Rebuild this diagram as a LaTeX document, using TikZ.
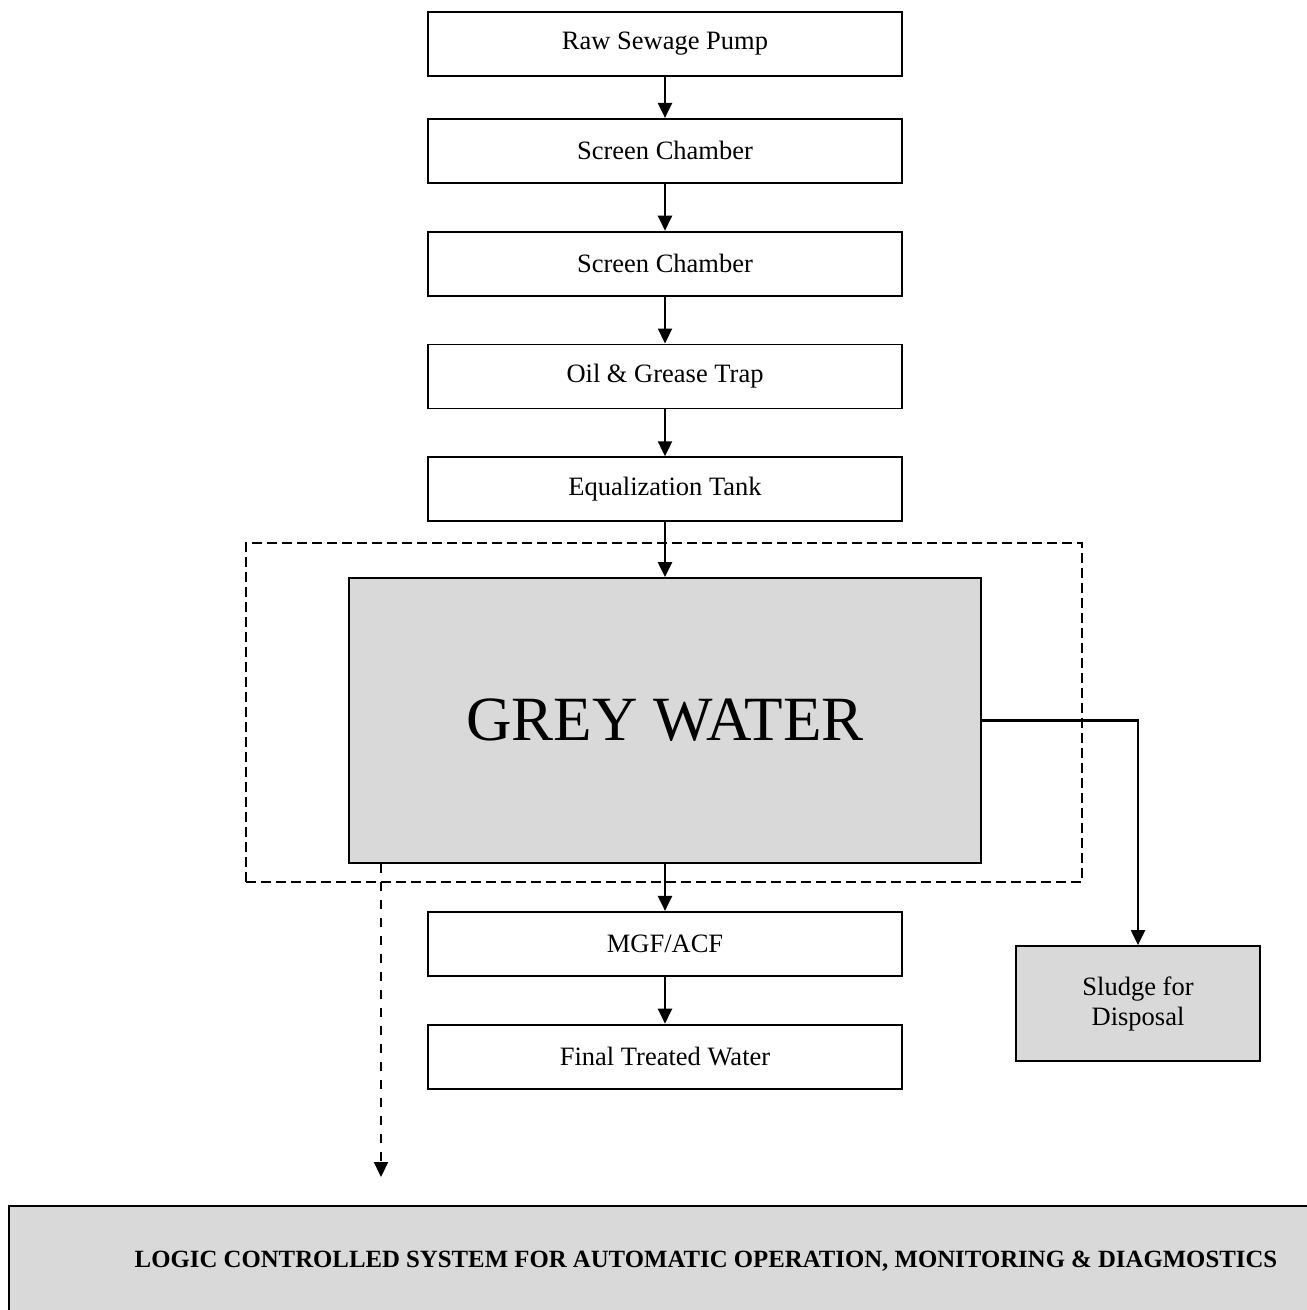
\documentclass[tikz,border=0pt]{standalone}
\usepackage{fontspec}
\setmainfont{Liberation Serif}
\usetikzlibrary{arrows.meta,positioning}
\definecolor{TankGrey}{HTML}{D9D9D9}

\begin{document}
\begin{tikzpicture}[x=1pt,y=1pt,
			node distance=47pt,
			stage/.style={draw,line width=1.8pt,fill=white,align=center,minimum width=474pt,minimum height=64pt,font=\fontsize{26.5}{30}\selectfont},
			tank/.style={draw,line width=1.8pt,fill=TankGrey,align=center},
			zone/.style={draw,line width=1.8pt,dash pattern=on 10pt off 5pt},
			arr/.style={-{Triangle[length=15pt,width=14pt]},line width=2.2pt},
			ctrl/.style={-{Triangle[length=15pt,width=14pt]},line width=2.2pt,dash pattern=on 9pt off 9pt}
		]
		\useasboundingbox (0,0) rectangle (1307,-1310);
		\node[zone,minimum width=836pt,minimum height=339pt] (plant) at (664,-712.5) {};
		\node[stage] (pump) at (665,-44) {Raw Sewage Pump};
		\node[stage,below=41pt of pump] (screenA) {Screen Chamber};
		\node[stage,below=of screenA] (screenB) {Screen Chamber};
		\node[stage,below=of screenB] (trap) {Oil \& Grease Trap};
		\node[stage,below=of trap] (equal) {Equalization Tank};
		\node[tank,minimum width=632pt,minimum height=285pt,font=\fontsize{63}{70}\selectfont] (grey) at (665,-720.5) {GREY WATER};
		\node[stage,below=of grey] (mgf) {MGF/ACF};
		\node[stage,below=of mgf] (final) {Final Treated Water};
		\node[tank,minimum width=244pt,minimum height=115pt,font=\fontsize{26.5}{30}\selectfont] (sludge) at (1138,-1003.5) {Sludge for\\Disposal};
		\node[tank,minimum width=1394pt,minimum height=110pt,font=\bfseries\fontsize{24.8}{28}\selectfont] (logic) at (706,-1261) {LOGIC CONTROLLED SYSTEM FOR AUTOMATIC OPERATION, MONITORING \& DIAGMOSTICS};
		\coordinate (ctrlend) at (381,-1177);
		\draw[arr] (pump)--(screenA);
		\draw[arr] (screenA)--(screenB);
		\draw[arr] (screenB)--(trap);
		\draw[arr] (trap)--(equal);
		\draw[arr] (equal)--(grey);
		\draw[arr] (grey)--(mgf);
		\draw[arr] (mgf)--(final);
		\draw[arr] (grey.east)-|(sludge.north);
		\draw[ctrl] (grey.south -| ctrlend)--(ctrlend);
	\end{tikzpicture}
\end{document}
